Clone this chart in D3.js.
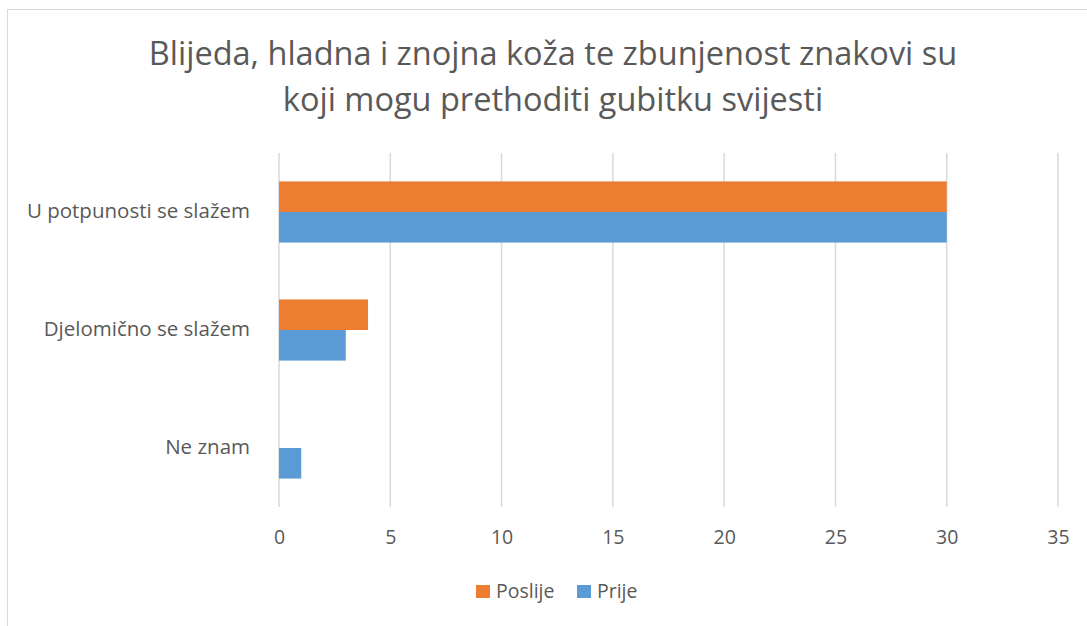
<!DOCTYPE html>
<html lang="hr">
<head>
    <meta charset="UTF-8">
    <title>Blijeda, hladna i znojna koža</title>
    <script src="https://d3js.org/d3.v7.min.js"></script>
    <style>
        body { margin: 0; background: #fff; }
        text { font-family: "Open Sans", sans-serif; fill: #595959; }
    </style>
</head>
<body>
    <div id="chart"></div>

    <script>
        // Data
        const categories = ["U potpunosti se slažem", "Djelomično se slažem", "Ne znam"];
        const seriesNames = ["Poslije", "Prije"];
        const poslije = [30, 4, 0];
        const prije = [30, 3, 1];
        const xTicks = [0, 5, 10, 15, 20, 25, 30, 35];
        const titleLines = ["Blijeda, hladna i znojna koža te zbunjenost znakovi su", "koji mogu prethoditi gubitku svijesti"];

        const colors = { "Poslije": "#ED7D31", "Prije": "#5B9BD5" };
        const W = 1087, H = 626;
        const plot = { left: 279, right: 1058, top: 153, bottom: 507 };

        const svg = d3.select("#chart").append("svg")
            .attr("width", W).attr("height", H);

        // Outer border
        svg.append("rect")
            .attr("x", 7.5).attr("y", 9.5)
            .attr("width", W).attr("height", H)
            .attr("fill", "none").attr("stroke", "#d9d9d9");

        // Title
        svg.append("text")
            .attr("text-anchor", "middle")
            .style("font-size", "32.5px")
            .selectAll("tspan")
            .data(titleLines)
            .join("tspan")
            .attr("x", 553)
            .attr("y", (d, i) => 65 + i * 46)
            .text(d => d);

        // Scales
        const x = d3.scaleLinear().domain([0, 35]).range([plot.left, plot.right]);
        const y = d3.scaleBand().domain(categories).range([plot.top, plot.bottom]);
        const y1 = d3.scaleBand().domain(seriesNames)
            .range([0, y.bandwidth()]).paddingInner(0).paddingOuter(0.93);

        // Gridlines
        svg.append("g")
            .selectAll("line")
            .data(xTicks)
            .join("line")
            .attr("x1", d => x(d)).attr("x2", d => x(d))
            .attr("y1", plot.top).attr("y2", plot.bottom)
            .attr("stroke", "#d9d9d9").attr("stroke-width", 1.5);

        // Bars
        const rows = categories.map((c, i) => ({ cat: c, values: [
            { name: "Poslije", v: poslije[i] },
            { name: "Prije", v: prije[i] }
        ] }));

        svg.append("g")
            .selectAll("g")
            .data(rows)
            .join("g")
            .attr("transform", d => `translate(0,${y(d.cat)})`)
            .selectAll("rect")
            .data(d => d.values.filter(e => e.v > 0))
            .join("rect")
            .attr("x", x(0))
            .attr("y", d => y1(d.name))
            .attr("width", d => x(d.v) - x(0))
            .attr("height", y1.bandwidth())
            .attr("fill", d => colors[d.name]);

        // X axis labels
        const xAxis = svg.append("g")
            .attr("transform", `translate(0,${plot.bottom})`)
            .call(d3.axisBottom(x).tickValues(xTicks).tickSize(0).tickPadding(23));
        xAxis.select(".domain").remove();
        xAxis.selectAll("text")
            .style("font-size", "19.5px")
            .attr("fill", "#595959")
            .style("font-family", "'Open Sans', sans-serif");

        // Category labels
        const yAxis = svg.append("g")
            .attr("transform", `translate(${plot.left},0)`)
            .call(d3.axisLeft(y).tickSize(0).tickPadding(29));
        yAxis.select(".domain").remove();
        yAxis.selectAll("text")
            .attr("dy", "0.28em")
            .style("font-size", "20.5px")
            .attr("fill", "#595959")
            .style("font-family", "'Open Sans', sans-serif");

        // Legend
        const legendX = [476, 577];
        const legend = svg.append("g")
            .selectAll("g")
            .data(seriesNames)
            .join("g")
            .attr("transform", (d, i) => `translate(${legendX[i]},585)`);
        legend.append("rect")
            .attr("width", 14).attr("height", 13)
            .attr("fill", d => colors[d]);
        legend.append("text")
            .attr("x", 20).attr("y", 13)
            .style("font-size", "19.5px")
            .text(d => d);
    </script>
</body>
</html>
